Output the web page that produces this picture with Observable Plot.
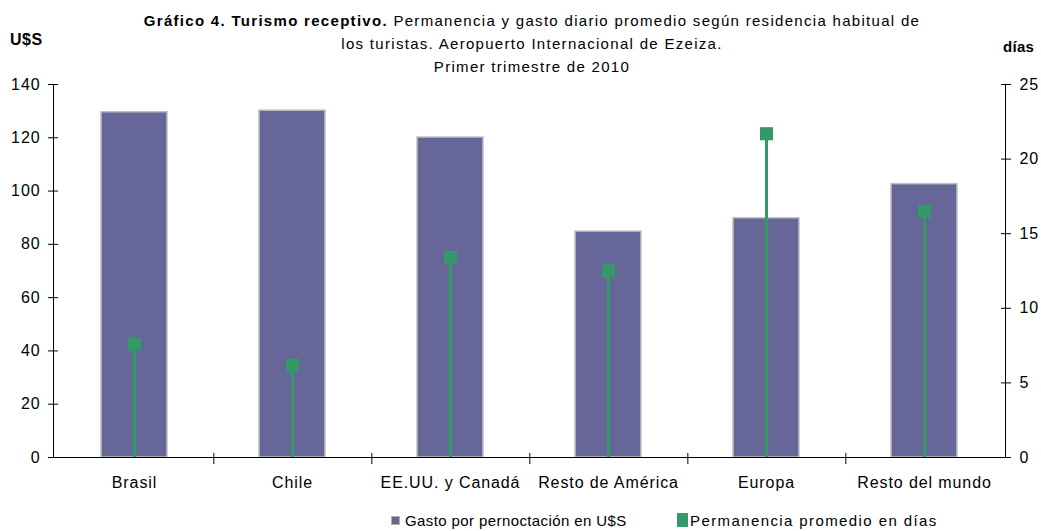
<!DOCTYPE html>
<html>
<head>
<meta charset="utf-8">
<script src="https://cdn.jsdelivr.net/npm/d3@7"></script>
<script src="https://cdn.jsdelivr.net/npm/@observablehq/plot@0.6"></script>
<style>
  html, body { margin: 0; padding: 0; background: #fff; }
  #wrap { position: relative; width: 1041px; height: 531px; font-family: "Liberation Sans", Arial, sans-serif; color: #000; }
  #wrap svg { position: absolute; left: 0; top: 0; }
  .t { position: absolute; white-space: nowrap; }
  #title { left: 0; width: 1064px; top: 9px; text-align: center; font-size: 15px; line-height: 23px; letter-spacing: 1.3px; }
  #ul { left: 10px; top: 31px; font-size: 16px; font-weight: bold; letter-spacing: 0.5px; }
  #ur { left: 1003px; top: 38px; font-size: 15px; font-weight: bold; letter-spacing: 0.3px; }
  .leg { font-size: 15px; top: 512px; }
  .sw { position: absolute; }
</style>
</head>
<body>
<div id="wrap">
  <div class="t" id="title"><b>Gráfico 4. Turismo receptivo.</b> Permanencia y gasto diario promedio según residencia habitual de<br>los turistas. Aeropuerto Internacional de Ezeiza.<br>Primer trimestre de 2010</div>
  <div class="t" id="ul">U$S</div>
  <div class="t" id="ur">días</div>
  <div class="sw" style="left:391px;top:516px;width:7px;height:7px;background:#666699;border:1px solid #b0b0b0;"></div>
  <div class="t leg" style="left:405px;letter-spacing:0.4px;">Gasto por pernoctación en U$S</div>
  <div class="sw" style="left:677px;top:513px;width:11px;height:14px;background:#339966;"></div>
  <div class="t leg" style="left:690px;letter-spacing:1.4px;">Permanencia promedio en días</div>
</div>
<script>
const categories = ["Brasil", "Chile", "EE.UU. y Canadá", "Resto de América", "Europa", "Resto del mundo"];
const gasto = [129.6, 130.2, 120.1, 84.8, 89.8, 102.6];
const dias = [7.6, 6.2, 13.4, 12.5, 21.7, 16.5];
const gastoTicks = [0, 20, 40, 60, 80, 100, 120, 140];
const diasTicks = [0, 5, 10, 15, 20, 25];

const k = 140 / 25;
const mL = 53, mR = 36, W = 1041;
const step = (W - mL - mR) / categories.length;

const chart = Plot.plot({
  width: W, height: 531,
  marginLeft: mL, marginRight: mR, marginTop: 84, marginBottom: 74,
  style: { fontFamily: "'Liberation Sans', Arial, sans-serif", fontSize: "16px", color: "#000", background: "transparent", letterSpacing: "0.9px" },
  x: { domain: categories, paddingInner: 0.584, paddingOuter: 0.292, label: null },
  y: { domain: [0, 140], label: null },
  marks: [
    Plot.barY(categories, { x: categories, y: gasto, fill: "#666699", stroke: "#c0c0c0", strokeWidth: 1.5 }),
    Plot.ruleX(categories, { x: categories, y1: 0, y2: dias.map(d => d * k), stroke: "#339966", strokeWidth: 3 }),
    Plot.dot(categories, { x: categories, y: dias.map(d => d * k), symbol: "square", r: 7.4, fill: "#339966" }),
    Plot.ruleY([0], { stroke: "#000" }),
    Plot.frame({ anchor: "left", stroke: "#000" }),
    Plot.frame({ anchor: "right", stroke: "#000" }),
    Plot.axisY({ ticks: gastoTicks, tickSize: 10, dx: 5, tickPadding: 8, tickFormat: d => d, label: null }),
    Plot.axisY({ anchor: "right", ticks: diasTicks.map(d => d * k), tickFormat: d => String(Math.round(d / k)), tickSize: 10, dx: -5, tickPadding: 9, label: null }),
    Plot.axisX({ ticks: categories.slice(0, -1), tickSize: 11, dy: -4, dx: step / 2, tickFormat: () => "", label: null }),
    Plot.axisX({ tickSize: 0, tickPadding: 19, label: null })
  ]
});
document.getElementById("wrap").prepend(chart);
</script>
</body>
</html>
